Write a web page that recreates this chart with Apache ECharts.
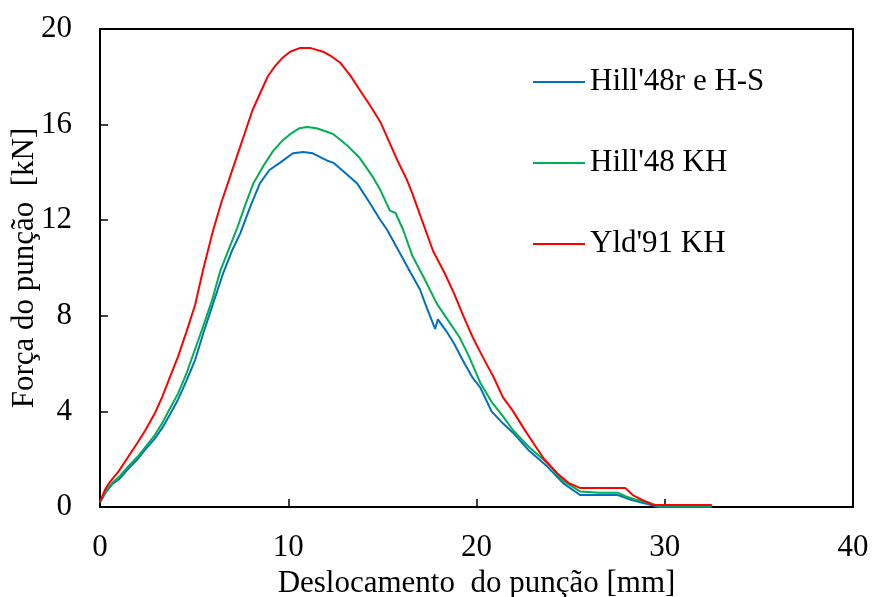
<!DOCTYPE html>
<html>
<head>
<meta charset="utf-8">
<script src="https://cdn.jsdelivr.net/npm/echarts@6/dist/echarts.min.js"></script>
<style>
  html, body { margin: 0; padding: 0; background: #fff; }
  #chart { width: 872px; height: 597px; }
</style>
</head>
<body>
<div id="chart"></div>
<script>
// Punch force vs punch displacement for three constitutive models
const seriesNames = ["Hill'48r e H-S", "Hill'48 KH", "Yld'91 KH"];
const seriesColors = ['#0070C0', '#00B050', '#FF0000'];

const xTicks = [0, 10, 20, 30, 40];
const yTicks = [0, 4, 8, 12, 16, 20];

const hillRX = [0, 0.3, 0.64, 1.0, 1.5, 2.0, 2.4, 2.9, 3.3, 3.7, 4.15, 4.6, 5.05, 5.5, 6.0, 6.55, 7.0, 7.45, 8.0, 8.5, 9.0, 9.55, 10.25, 10.8, 11.3, 12.05, 12.4, 13.0, 13.65, 14.35, 14.9, 15.25, 15.95, 16.5, 17.0, 17.35, 17.8, 17.95, 18.4, 18.8, 19.3, 19.8, 20.2, 20.8, 21.4, 21.95, 22.8, 23.75, 24.6, 25.5, 26.5, 27.5, 28.2, 28.7, 29.2, 29.65, 31, 32.5];
const hillRY = [0.2, 0.6, 0.95, 1.15, 1.6, 2.0, 2.4, 2.85, 3.3, 3.85, 4.5, 5.3, 6.15, 7.3, 8.5, 9.8, 10.7, 11.45, 12.6, 13.55, 14.1, 14.4, 14.8, 14.85, 14.8, 14.5, 14.4, 14.0, 13.55, 12.7, 12.0, 11.6, 10.6, 9.8, 9.1, 8.35, 7.45, 7.85, 7.35, 6.85, 6.1, 5.4, 5.0, 4.0, 3.5, 3.1, 2.35, 1.7, 1.0, 0.5, 0.5, 0.5, 0.3, 0.2, 0.1, 0.0, 0.0, 0.0];

const hillKX = [0, 0.3, 0.64, 1.0, 1.5, 2.0, 2.4, 2.9, 3.3, 3.7, 4.15, 4.6, 5.05, 5.5, 5.95, 6.4, 6.85, 7.3, 7.7, 8.15, 8.7, 9.2, 9.65, 10.1, 10.6, 11.0, 11.5, 12.05, 12.4, 13.1, 13.8, 14.5, 14.9, 15.4, 15.7, 16.1, 16.6, 17.2, 17.9, 18.5, 19.1, 19.6, 20.2, 20.8, 21.4, 21.95, 22.8, 23.75, 24.6, 25.5, 26.5, 27.5, 27.9, 28.5, 29.1, 29.6, 31, 32.5];
const hillKY = [0.2, 0.65, 1.0, 1.25, 1.7, 2.1, 2.5, 3.0, 3.5, 4.1, 4.75, 5.6, 6.6, 7.6, 8.65, 9.9, 10.8, 11.7, 12.6, 13.55, 14.3, 14.9, 15.3, 15.6, 15.85, 15.9, 15.85, 15.7, 15.6, 15.15, 14.6, 13.8, 13.25, 12.4, 12.3, 11.6, 10.5, 9.6, 8.5, 7.8, 7.1, 6.3, 5.2, 4.4, 3.8, 3.2, 2.5, 1.85, 1.1, 0.65, 0.6, 0.6, 0.45, 0.3, 0.2, 0.05, 0.05, 0.05];

const yldX = [0, 0.25, 0.53, 1.0, 1.5, 2.0, 2.4, 2.9, 3.3, 3.7, 4.15, 4.6, 5.05, 5.5, 6.0, 6.45, 6.9, 7.35, 7.8, 8.1, 8.5, 8.9, 9.3, 9.7, 10.1, 10.6, 11.2, 11.85, 12.3, 12.75, 13.3, 13.8, 14.35, 14.9, 15.35, 15.8, 16.3, 16.6, 17.15, 17.7, 18.3, 18.8, 19.3, 19.8, 20.35, 20.9, 21.4, 21.95, 22.5, 23.0, 23.6, 24.3, 24.9, 25.5, 26.5, 27.9, 28.3, 28.8, 29.4, 30.5, 32.5];
const yldY = [0.2, 0.7, 1.05, 1.5, 2.1, 2.7, 3.2, 3.9, 4.6, 5.4, 6.3, 7.35, 8.45, 10.0, 11.55, 12.75, 13.8, 14.85, 15.9, 16.6, 17.3, 18.0, 18.45, 18.8, 19.05, 19.2, 19.2, 19.05, 18.85, 18.6, 18.05, 17.45, 16.8, 16.1, 15.3, 14.5, 13.7, 13.1, 11.9, 10.7, 9.8, 8.95, 8.0, 7.1, 6.25, 5.45, 4.6, 4.0, 3.3, 2.7, 2.0, 1.4, 1.0, 0.8, 0.8, 0.8, 0.5, 0.3, 0.08, 0.08, 0.08];

function pairs(xs, ys) {
  return xs.map((x, i) => [x, ys[i]]);
}

const curves = [pairs(hillRX, hillRY), pairs(hillKX, hillKY), pairs(yldX, yldY)];

const serif = '"Liberation Serif", "DejaVu Serif", serif';
const fs = 31;
const chart = echarts.init(document.getElementById('chart'), null, { renderer: 'canvas' });

chart.setOption({
  animation: false,
  backgroundColor: '#ffffff',
  grid: {
    left: 100, right: 19, top: 29, bottom: 90,
    outerBoundsMode: 'none',
    containLabel: false,
    show: true, borderColor: '#000', borderWidth: 2, backgroundColor: 'transparent'
  },
  legend: {
    orient: 'vertical',
    left: 528,
    top: 60,
    itemWidth: 52,
    itemHeight: 2,
    itemGap: 47,
    icon: 'rect',
    data: seriesNames,
    textStyle: { fontFamily: serif, fontSize: fs, color: '#000', lineHeight: 34 }
  },
  xAxis: {
    type: 'value',
    min: xTicks[0],
    max: xTicks[xTicks.length - 1],
    interval: 10,
    name: 'Deslocamento  do punção [mm]',
    nameLocation: 'middle',
    nameGap: 59,
    nameTextStyle: { fontFamily: serif, fontSize: fs, color: '#000' },
    axisLine: { show: true, lineStyle: { color: '#000', width: 2 } },
    axisTick: { show: true, inside: true, length: 8, lineStyle: { color: '#000', width: 1.5 } },
    axisLabel: { fontFamily: serif, fontSize: fs, color: '#000', margin: 25 },
    splitLine: { show: false }
  },
  yAxis: {
    type: 'value',
    min: yTicks[0],
    max: yTicks[yTicks.length - 1],
    interval: 4,
    name: 'Força do punção  [kN]',
    nameLocation: 'middle',
    nameGap: 60,
    nameMoveOverlap: false,
    nameTextStyle: { fontFamily: serif, fontSize: fs, color: '#000' },
    axisLine: { show: true, lineStyle: { color: '#000', width: 2 } },
    axisTick: { show: true, inside: true, length: 8, lineStyle: { color: '#000', width: 1.5 } },
    axisLabel: { fontFamily: serif, fontSize: fs, color: '#000', margin: 28 },
    splitLine: { show: false }
  },
  series: curves.map((d, i) => ({
    name: seriesNames[i],
    type: 'line',
    data: d,
    symbol: 'none',
    showSymbol: false,
    smooth: false,
    color: seriesColors[i],
    lineStyle: { color: seriesColors[i], width: 2 },
    z: 2 + i
  }))
});
</script>
</body>
</html>
